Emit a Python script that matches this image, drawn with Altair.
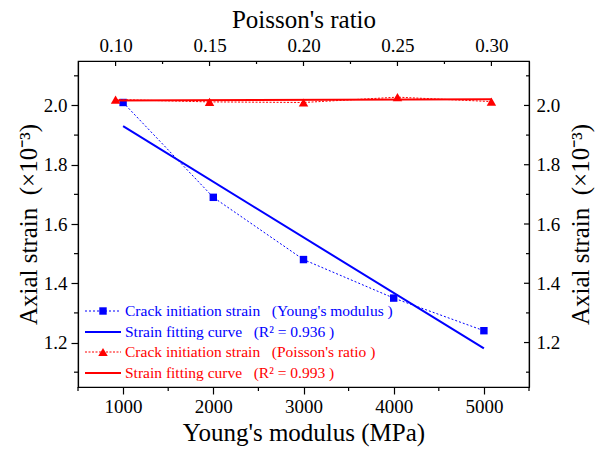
import altair as alt
import pandas as pd

# ---- data ----
young_mod = [1000, 2000, 3000, 4000, 5000]
young_strain = [2.01, 1.69, 1.48, 1.35, 1.24]
young_fit_x = [1000, 5000]
young_fit_y = [1.93, 1.18]

poisson = [0.10, 0.15, 0.20, 0.25, 0.30]
poisson_strain = [2.02, 2.012, 2.01, 2.028, 2.013]
poisson_fit_x = [0.10, 0.30]
poisson_fit_y = [2.017, 2.021]

bottom_major = [1000, 2000, 3000, 4000, 5000]
bottom_minor = [500, 1500, 2500, 3500, 4500, 5500]
top_major = [0.10, 0.15, 0.20, 0.25, 0.30]
top_minor = [0.125, 0.175, 0.225, 0.275]
y_major = [1.2, 1.4, 1.6, 1.8, 2.0]
y_minor = [1.1, 1.3, 1.5, 1.7, 1.9, 2.1]

SP = "\u00a0\u00a0 "
legend_labels = [
    "Crack initiation strain" + SP + "(Young's modulus )",
    "Strain fitting curve" + SP + "(R² = 0.936 )",
    "Crack initiation strain" + SP + "(Poisson's ratio )",
    "Strain fitting curve" + SP + "(R² = 0.993 )",
]

BLUE = "#0000FF"
RED = "#FF0000"
FONT = "Liberation Serif"
W, H = 451, 326

ytitle = "Axial strain\u00a0\u00a0(×10⁻³)"

young_df = pd.DataFrame({"E": young_mod, "s": young_strain})
young_fit_df = pd.DataFrame({"E": young_fit_x, "s": young_fit_y})
poi_df = pd.DataFrame({"v": poisson, "s": poisson_strain})
poi_fit_df = pd.DataFrame({"v": poisson_fit_x, "s": poisson_fit_y})

common_axis = dict(
    labelFont=FONT, labelFontSize=19, labelColor="black",
    titleFont=FONT, titleFontSize=25, titleFontWeight="normal", titleColor="black",
    domainColor="black", domainWidth=1.2, tickColor="black", tickWidth=1.2,
    grid=False,
)

xb_scale = alt.Scale(domain=[500, 5500], nice=False, zero=False)
xt_scale = alt.Scale(domain=[0.08, 0.32], nice=False, zero=False)
y_scale = alt.Scale(domain=[1.05, 2.15], nice=False, zero=False)

x_bottom = alt.X("E:Q", scale=xb_scale,
                 axis=alt.Axis(orient="bottom", title="Young's modulus (MPa)",
                               values=bottom_major, format="d", tickSize=7,
                               labelPadding=3, titlePadding=4, **common_axis))
y_left = alt.Y("s:Q", scale=y_scale,
               axis=alt.Axis(orient="left", title=ytitle, values=y_major, format=".1f",
                             tickSize=7, labelPadding=4, titlePadding=2, **common_axis))
x_top = alt.X("v:Q", scale=xt_scale,
              axis=alt.Axis(orient="top", title="Poisson's ratio", values=top_major, format=".2f",
                            ticks=False, labelPadding=6, titlePadding=4, **common_axis))
y_right = alt.Y("s:Q", scale=y_scale,
                axis=alt.Axis(orient="right", title=ytitle, titleAngle=270, titleBaseline="top",
                              values=y_major, format=".1f", ticks=False,
                              labelPadding=7, titlePadding=9, **common_axis))

a_line = alt.Chart(young_df).mark_line(color=BLUE, strokeWidth=1, strokeDash=[2, 2]).encode(x=x_bottom, y=y_left)
a_fit = alt.Chart(young_fit_df).mark_line(color=BLUE, strokeWidth=2).encode(x=x_bottom, y=y_left)
a_pts = alt.Chart(young_df).mark_point(shape="square", filled=True, opacity=1, color=BLUE, size=55).encode(x=x_bottom, y=y_left)

# minor ticks (bottom outward) and (left outward), drawn through the scales
bm = alt.Chart(pd.DataFrame({"E": bottom_minor})).mark_rule(color="black", strokeWidth=1.2).encode(
    x=x_bottom, y=alt.value(H), y2=alt.value(H + 4))
lm = alt.Chart(pd.DataFrame({"s": y_minor})).mark_rule(color="black", strokeWidth=1.2).encode(
    y=y_left, x=alt.value(0), x2=alt.value(-4))
layer_a = alt.layer(a_line, a_fit, a_pts, bm, lm)

b_line = alt.Chart(poi_df).mark_line(color=RED, strokeWidth=1, strokeDash=[2, 1.5]).encode(x=x_top, y=y_right)
b_fit = alt.Chart(poi_fit_df).mark_line(color=RED, strokeWidth=2).encode(x=x_top, y=y_right)
b_pts = alt.Chart(poi_df).mark_point(shape="triangle-up", filled=True, opacity=1, color=RED, size=90).encode(x=x_top, y=y_right)

# top / right ticks point inward
tM = alt.Chart(pd.DataFrame({"v": top_major})).mark_rule(color="black", strokeWidth=1.2).encode(
    x=x_top, y=alt.value(0), y2=alt.value(5))
tm = alt.Chart(pd.DataFrame({"v": top_minor})).mark_rule(color="black", strokeWidth=1.2).encode(
    x=x_top, y=alt.value(0), y2=alt.value(3))
rM = alt.Chart(pd.DataFrame({"s": y_major})).mark_rule(color="black", strokeWidth=1.2).encode(
    y=y_right, x=alt.value(W), x2=alt.value(W - 5))
rm = alt.Chart(pd.DataFrame({"s": y_minor})).mark_rule(color="black", strokeWidth=1.2).encode(
    y=y_right, x=alt.value(W), x2=alt.value(W - 3))
layer_b = alt.layer(b_line, b_fit, b_pts, tM, tm, rM, rm)

# ---- legend (lower left inside the plot) ----
one = pd.DataFrame({"k": [0]})
leg_layers = []
leg_colors = [BLUE, BLUE, RED, RED]
leg_dash = [[2, 2], None, [2, 1.5], None]
leg_shape = ["square", None, "triangle-up", None]
leg_y = [250, 271, 291, 312]
for lab, col, dash, shp, yy in zip(legend_labels, leg_colors, leg_dash, leg_shape, leg_y):
    if dash is not None:
        rule = alt.Chart(one).mark_rule(color=col, strokeWidth=1, strokeDash=dash)
    else:
        rule = alt.Chart(one).mark_rule(color=col, strokeWidth=2)
    leg_layers.append(rule.encode(x=alt.value(7), x2=alt.value(43), y=alt.value(yy)))
    if shp is not None:
        leg_layers.append(alt.Chart(one).mark_point(shape=shp, filled=True, opacity=1, color=col,
                                                    size=55 if shp == "square" else 90)
                          .encode(x=alt.value(25), y=alt.value(yy)))
    leg_layers.append(alt.Chart(one).mark_text(align="left", baseline="middle", font=FONT,
                                               fontSize=15.5, color=col)
                      .encode(x=alt.value(47), y=alt.value(yy), text=alt.value(lab)))

chart = alt.layer(layer_a, layer_b, *leg_layers).resolve_scale(
    x="independent", y="independent"
).properties(
    width=W, height=H,
    autosize=alt.AutoSizeParams(type="none"),
    padding={"left": 78, "top": 61, "right": 71, "bottom": 67},
    background="white",
).configure_view(stroke="black", strokeWidth=1.2).configure_axis(
    labelFont=FONT, titleFont=FONT, labelFontSize=19
).configure_text(font=FONT)

chart.save("out.html", embed_options={"renderer": "svg", "actions": False})
